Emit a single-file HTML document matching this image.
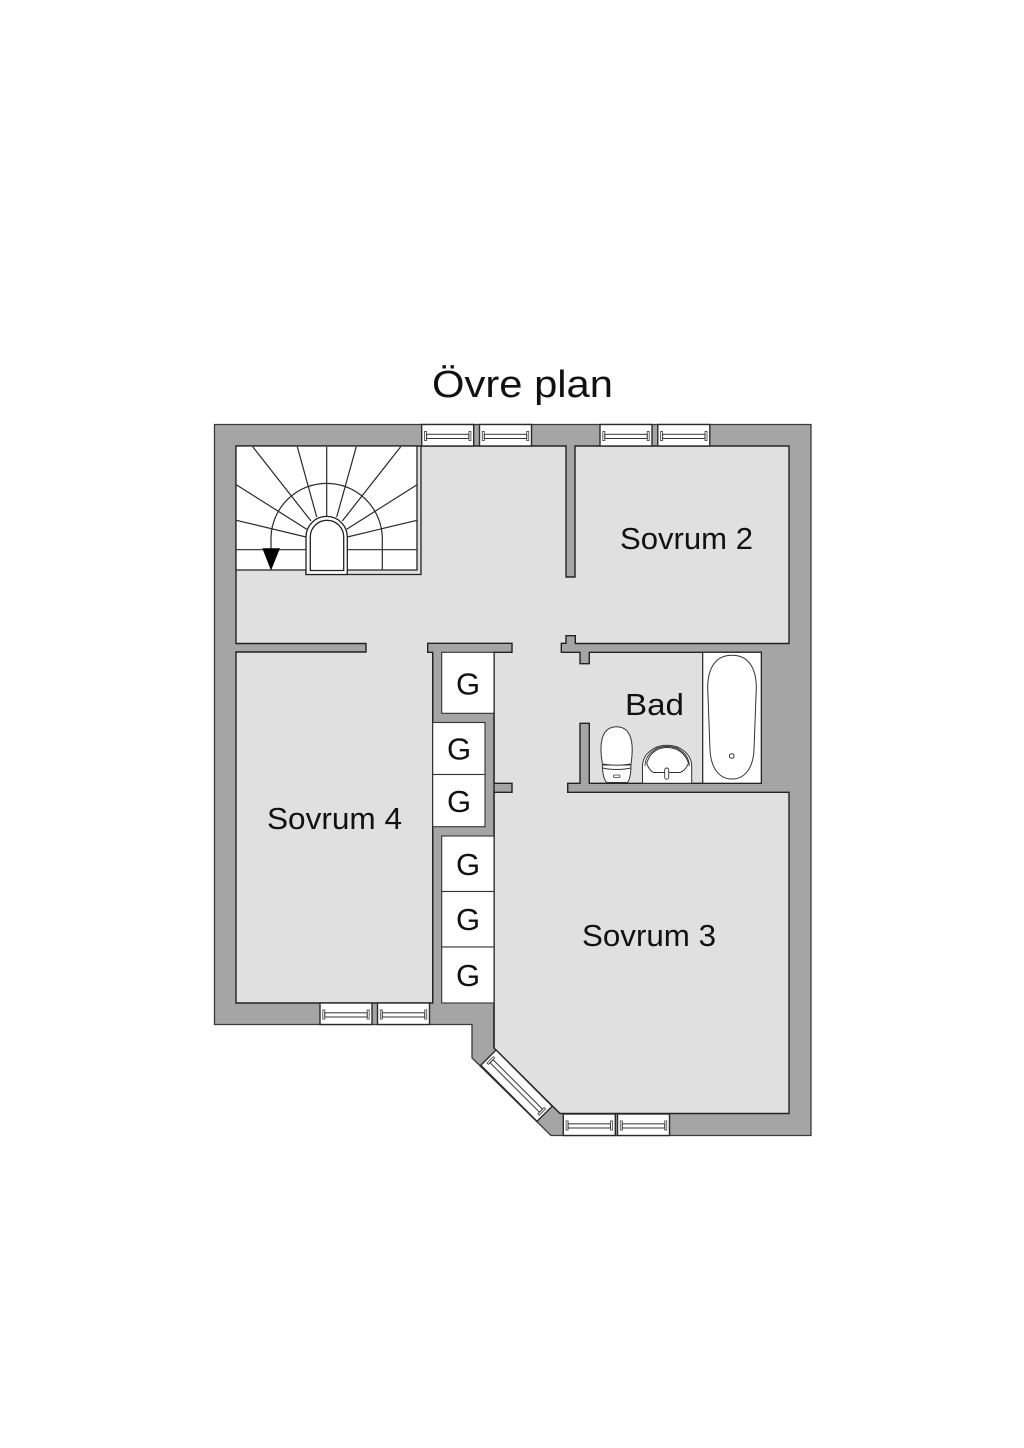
<!DOCTYPE html>
<html>
<head>
<meta charset="utf-8">
<style>
html,body{margin:0;padding:0;background:#fff;}
svg{display:block;}
text{font-family:"Liberation Sans",sans-serif;fill:#111;}
</style>
</head>
<body>
<svg width="1024" height="1448" viewBox="0 0 1024 1448" xmlns="http://www.w3.org/2000/svg">
<defs>
<g id="win">
<rect x="0" y="0" width="52" height="21.5" fill="#fff" stroke="#2a2a2a" stroke-width="1.4"/>
<path d="M2.8,7 H4.8 V16 H2.8 Z M49.2,7 H47.2 V16 H49.2 Z" fill="#fff" stroke="#555" stroke-width="0.9"/>
<rect x="4.8" y="9.8" width="42.4" height="4.2" fill="#fff" stroke="#333" stroke-width="1"/>
</g>
</defs>
<rect width="1024" height="1448" fill="#fff"/>
<text x="432" y="397" font-size="38" textLength="181" lengthAdjust="spacingAndGlyphs">Övre plan</text>

<polygon points="214.5,424.5 811,424.5 811,1135.5 551,1135.5 472,1058 472,1024.5 214.5,1024.5" fill="#a5a5a5" stroke="#3a3a3a" stroke-width="1.3"/>

<path d="M236,446 H566 V577 H575 V446 H789 V643.5 H575.3 V635.7 H566 V643.3 H561.3 V652.3 H580 V663.7 H589.3 V652.3 H761.3 V783.3 H589.3 V723.3 H580 V783.3 H567.7 V792.3 H789 V1113.5 H560 L494,1048 V792.3 H512 V783.3 H494 V652.3 H512 V643.3 H427.7 V652.3 H432.7 V1003 H236 V652 H366 V643.5 H236 Z" fill="#e0e0e0" stroke="#222" stroke-width="1.4"/>

<!-- closet wall mass -->
<rect x="433.4" y="652.9" width="60" height="350" fill="#a5a5a5"/>
<path d="M432.7,652.3 V1003 M494,652.3 V1048" stroke="#222" stroke-width="1.4" fill="none"/>

<!-- closets -->
<g fill="#fff" stroke="#333" stroke-width="1.1">
<rect x="441.7" y="652.3" width="52.3" height="61"/>
<rect x="432.7" y="722.5" width="52.3" height="52"/>
<rect x="432.7" y="774.5" width="52.3" height="52.2"/>
<rect x="441.7" y="836" width="52.3" height="55.5"/>
<rect x="441.7" y="891.5" width="52.3" height="55.5"/>
<rect x="441.7" y="947" width="52.3" height="56"/>
</g>

<!-- stairs -->
<rect x="236" y="446" width="181.5" height="124.5" fill="#fff"/>
<path d="M236,446 H417 V570 H236 M306,570.5 V574.5 H421 V446" fill="none" stroke="#222" stroke-width="1.3"/>
<path d="M236,446 V570" fill="none" stroke="#222" stroke-width="1.3"/>
<g fill="none" stroke="#2a2a2a" stroke-width="1.2">
<path d="M252.7,446.7 L311,521 M297.3,446.7 L316.7,517 M326.7,446.7 V516 M356.3,446.7 L336.7,517 M400.7,446.7 L342.3,521"/>
<path d="M236.3,484.7 L306.7,529.3 M417,484.7 L346.7,529.3 M236.3,520.3 L306,537 M417,520.3 L347.3,537 M236,549.7 H306 M347,549.7 H417"/>
<path d="M271,552 V536.7 A55.7,55.7 0 0 1 382.3,536.7 V570"/>
</g>
<path d="M306,574.5 V537 A20.65,20.65 0 0 1 347.3,537 V574.5 Z" fill="#fff" stroke="#222" stroke-width="1.3"/>
<path d="M310.3,570.5 V537 A16.7,16.7 0 0 1 343.7,537 V570.5 Z" fill="#fff" stroke="#222" stroke-width="1.3"/>
<polygon points="262.3,548.3 280,548.3 271,570.5" fill="#000"/>

<!-- bath -->
<rect x="702.7" y="652.3" width="58.6" height="131" fill="#fff" stroke="#222" stroke-width="1.2"/>
<path d="M707.7,688 C707.7,666 717,655.3 732,655.3 C747,655.3 756.3,666 756.3,688 L754,750 C753,768 745,779 732,779 C719,779 711,768 710,750 Z" fill="#fff" stroke="#333" stroke-width="1"/>
<circle cx="731.7" cy="756" r="2.3" fill="#fff" stroke="#333" stroke-width="1"/>

<!-- toilet -->
<path d="M606.7,782.5 C603.5,779 602.5,773 602.3,765 L631,765 C631,773 630,779 627.5,782.5 Z" fill="#fff" stroke="#333" stroke-width="1"/>
<path d="M602.5,764 C599.5,748 599.5,726.7 616.5,726.7 C633.5,726.7 633.5,748 631,764 C622,765.5 611,765.5 602.5,764 Z" fill="#fff" stroke="#333" stroke-width="1"/>
<path d="M602.5,768 C611,770 622,770 631,768" fill="none" stroke="#333" stroke-width="0.9"/>
<rect x="613.5" y="775" width="6.5" height="2.4" rx="1" fill="#fff" stroke="#333" stroke-width="0.8"/>

<!-- sink -->
<path d="M642.5,783.3 V766 A24.6,20.7 0 0 1 691.7,766 V783.3 Z" fill="#fff" stroke="#333" stroke-width="1"/>
<path d="M645,766 A22,19.5 0 0 1 689.3,766" fill="none" stroke="#333" stroke-width="0.9"/>
<path d="M646.7,763.3 C650,752 658,747.5 667,747.5 C676,747.5 685,752 688.5,763.3 C687,767 684,771 680,772.5 H653.5 C650,771 648,767 646.7,763.3 Z" fill="#fff" stroke="#333" stroke-width="1"/>
<rect x="664.7" y="768" width="4" height="11.3" rx="2" fill="#fff" stroke="#333" stroke-width="0.9"/>

<!-- windows -->
<use href="#win" transform="translate(421.7,424.5)"/>
<use href="#win" transform="translate(479.5,424.5)"/>
<use href="#win" transform="translate(600,424.5)"/>
<use href="#win" transform="translate(657.8,424.5)"/>
<use href="#win" transform="translate(320,1003)"/>
<use href="#win" transform="translate(377.5,1003)"/>
<use href="#win" transform="translate(563.3,1114)"/>
<use href="#win" transform="translate(617.5,1114)"/>
<g transform="translate(496,1050) rotate(45)">
<rect x="0" y="0" width="79.5" height="21.5" fill="#fff" stroke="#2a2a2a" stroke-width="1.4"/>
<path d="M2.8,6.5 H4.8 V15.5 H2.8 Z M76.7,6.5 H74.7 V15.5 H76.7 Z" fill="#fff" stroke="#555" stroke-width="0.9"/>
<rect x="4.8" y="9" width="69.9" height="4.2" fill="#fff" stroke="#333" stroke-width="1"/>
</g>

<!-- labels -->
<text x="620" y="549" font-size="31" textLength="133" lengthAdjust="spacingAndGlyphs">Sovrum 2</text>
<text x="267" y="829" font-size="31" textLength="135" lengthAdjust="spacingAndGlyphs">Sovrum 4</text>
<text x="582" y="946" font-size="31" textLength="134" lengthAdjust="spacingAndGlyphs">Sovrum 3</text>
<text x="625" y="715" font-size="31" textLength="59" lengthAdjust="spacingAndGlyphs">Bad</text>
<g font-size="31" text-anchor="middle">
<text x="468" y="694.5">G</text>
<text x="459" y="759.5">G</text>
<text x="459" y="812">G</text>
<text x="468" y="875">G</text>
<text x="468" y="930">G</text>
<text x="468" y="986">G</text>
</g>
</svg>
</body>
</html>
